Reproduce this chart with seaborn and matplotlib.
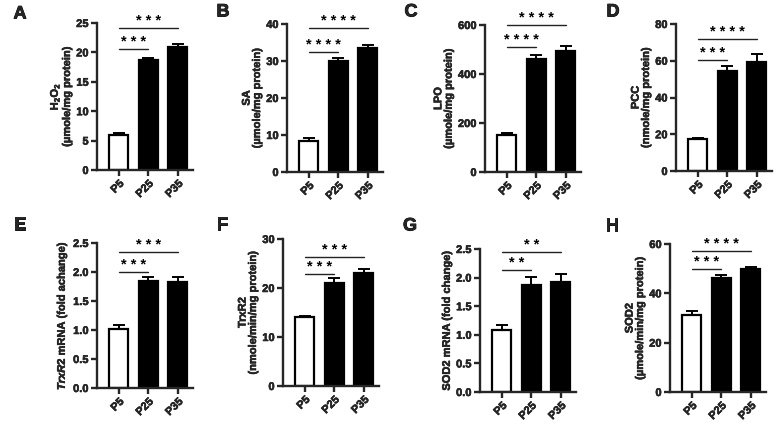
import matplotlib
matplotlib.use("Agg")
import matplotlib.pyplot as plt
import matplotlib.patheffects as pe
import seaborn as sns
import numpy as np

# ---------------- data ----------------
groups = ["P5", "P25", "P35"]

panel_letters = ["A", "B", "C", "D", "E", "F", "G", "H"]

h2o2_mean = [5.9, 18.7, 20.9]
h2o2_sem = [0.4, 0.4, 0.6]
sa_mean = [8.5, 30.1, 33.5]
sa_sem = [0.7, 0.8, 0.7]
lpo_mean = [150, 460, 493]
lpo_sem = [8, 18, 20]
pcc_mean = [17.2, 54.5, 59.5]
pcc_sem = [1.0, 2.5, 4.0]
trxr2_mrna_mean = [1.02, 1.85, 1.82]
trxr2_mrna_sem = [0.06, 0.07, 0.09]
trxr2_mean = [14.0, 21.0, 23.1]
trxr2_sem = [0.3, 1.0, 0.7]
sod2_mrna_mean = [1.09, 1.87, 1.92]
sod2_mrna_sem = [0.08, 0.14, 0.15]
sod2_mean = [31.3, 46.3, 49.8]
sod2_sem = [1.4, 1.3, 0.8]

ylabels = [
    "H$_2$O$_2$\n(µmole/mg protein)",
    "SA\n(µmole/mg protein)",
    "LPO\n(µmole/mg protein)",
    "PCC\n(nmole/mg protein)",
    "$\\mathit{TrxR2}$ mRNA (fold achange)",
    "TrxR2\n(nmole/min/mg protein)",
    "SOD2 mRNA (fold change)",
    "SOD2\n(µmole/min/mg protein)",
]
y_max = [25, 40, 600, 80, 2.5, 30, 2.5, 60]
y_step = [5, 10, 200, 20, 0.5, 10, 0.5, 20]
tick_fmt = ["{:.0f}", "{:.0f}", "{:.0f}", "{:.0f}", "{:.1f}", "{:.0f}", "{:.1f}", "{:.0f}"]
stars_low = ["***", "****", "****", "***", "***", "***", "**", "***"]
stars_high = ["***", "****", "****", "****", "***", "***", "**", "****"]
bar_colors = ["white", "black", "black"]

means = [h2o2_mean, sa_mean, lpo_mean, pcc_mean, trxr2_mrna_mean, trxr2_mean, sod2_mrna_mean, sod2_mean]
sems = [h2o2_sem, sa_sem, lpo_sem, pcc_sem, trxr2_mrna_sem, trxr2_sem, sod2_mrna_sem, sod2_sem]

# ---------------- layout (pixels) ----------------
W, H = 782, 428
# left spine x, top y, bottom y
boxes = [(97, 23, 170), (287, 24, 172), (485, 25, 172), (676, 24, 171),
         (97, 243, 388), (283, 239, 386), (480, 249, 392), (670, 244, 392)]
line_low = [0.82, 0.81, 0.85, 0.755, 0.80, 0.76, 0.85, 0.83]
line_high = [0.965, 0.97, 1.0, 0.90, 0.94, 0.88, 0.98, 0.95]
letter_pos = [(20, 14), (223, 12), (411, 12), (613, 12),
              (20, 225), (222, 225), (410, 226), (612, 226)]

sns.set_theme(style="ticks")
plt.rcParams["font.family"] = ["Liberation Sans", "DejaVu Sans"]
plt.rcParams["font.weight"] = "bold"
plt.rcParams["mathtext.fontset"] = "custom"
plt.rcParams["mathtext.rm"] = "Liberation Sans:bold"
plt.rcParams["mathtext.it"] = "Liberation Sans:italic:bold"
plt.rcParams["mathtext.bf"] = "Liberation Sans:bold"
plt.rcParams["mathtext.default"] = "rm"

heavy = [pe.withStroke(linewidth=0.35, foreground="black")]

fig = plt.figure(figsize=(W / 100, H / 100), dpi=100)

xlo, xhi = -0.74, 2.5
unit_px = 29.5
width_px = (xhi - xlo) * unit_px

for i in range(8):
    left, top, bottom = boxes[i]
    ax = fig.add_axes([left / W, 1 - bottom / H, width_px / W, (bottom - top) / H])
    sns.barplot(x=groups, y=means[i], hue=groups, palette=bar_colors, legend=False,
                edgecolor="black", linewidth=1.6, width=0.65, ax=ax, zorder=2)
    lower = np.zeros(3)
    ax.errorbar(np.arange(3), means[i], yerr=[lower, sems[i]], fmt="none",
                ecolor="black", elinewidth=1.4, capsize=4, capthick=1.4, zorder=1)
    ax.set_xlim(xlo, xhi)
    ax.set_ylim(0, y_max[i])
    ticks = np.arange(0, y_max[i] + y_step[i] / 2, y_step[i])
    ax.set_yticks(ticks)
    ax.set_yticklabels([tick_fmt[i].format(t) for t in ticks], fontweight="bold", fontsize=8)
    ax.set_xticks(range(3))
    ax.set_xticklabels(groups, rotation=45, ha="right", rotation_mode="anchor",
                       fontweight="bold", fontsize=8)
    for sp in ["top", "right"]:
        ax.spines[sp].set_visible(False)
    for sp in ["left", "bottom"]:
        ax.spines[sp].set_linewidth(1.7)
    ax.tick_params(axis="both", width=1.7, length=4.5, pad=1.5)
    ax.set_xlabel("")
    ax.set_ylabel(ylabels[i], fontsize=8, fontweight="bold", labelpad=3, linespacing=1.05)
    for t in ax.get_xticklabels() + ax.get_yticklabels() + [ax.yaxis.label]:
        t.set_path_effects(heavy)
    # significance lines
    for (x2, yl, st) in [(1, line_low[i], stars_low[i]), (2, line_high[i], stars_high[i])]:
        yv = yl * y_max[i]
        ax.plot([0, x2], [yv, yv], color="#222222", lw=1.0, clip_on=False)
        ax.text(x2 / 2, yv, " ".join(st), ha="center", va="bottom", fontsize=10.5,
                fontweight="bold", color="black", clip_on=False)
    lx, ly = letter_pos[i]
    fig.text(lx / W, 1 - ly / H, panel_letters[i], ha="center", va="center",
             fontsize=13, fontweight="bold", path_effects=[pe.withStroke(linewidth=0.6, foreground="black")])

fig.savefig("out.png", dpi=100)
